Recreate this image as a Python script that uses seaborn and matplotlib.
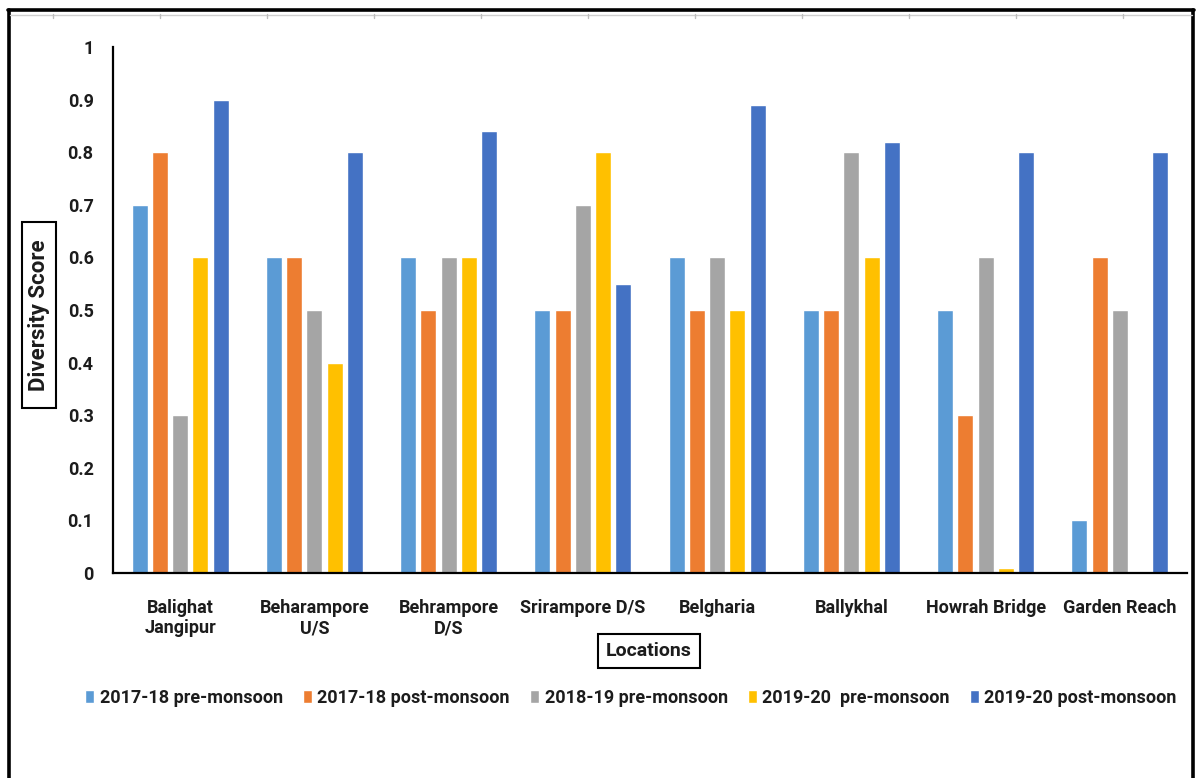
import numpy as np
import pandas as pd
import matplotlib
matplotlib.use("Agg")
import matplotlib.pyplot as plt
from matplotlib.lines import Line2D
from matplotlib.patches import Rectangle
import seaborn as sns

# Sampling locations along the river (x categories)
locations = ["Balighat\nJangipur", "Beharampore\nU/S", "Behrampore\nD/S", "Srirampore D/S",
             "Belgharia", "Ballykhal", "Howrah Bridge", "Garden Reach"]

# Survey seasons (hue)
seasons = ["2017-18 pre-monsoon", "2017-18 post-monsoon", "2018-19 pre-monsoon",
           "2019-20  pre-monsoon", "2019-20 post-monsoon"]

# Diversity scores per season, one value per location
pre_2017_18 = [0.7, 0.6, 0.6, 0.5, 0.6, 0.5, 0.5, 0.1]
post_2017_18 = [0.8, 0.6, 0.5, 0.5, 0.5, 0.5, 0.3, 0.6]
pre_2018_19 = [0.3, 0.5, 0.6, 0.7, 0.6, 0.8, 0.6, 0.5]
pre_2019_20 = [0.6, 0.4, 0.6, 0.8, 0.5, 0.6, 0.01, np.nan]
post_2019_20 = [0.9, 0.8, 0.84, 0.55, 0.89, 0.82, 0.8, 0.8]

y_ticks = [0, 0.1, 0.2, 0.3, 0.4, 0.5, 0.6, 0.7, 0.8, 0.9, 1]
y_tick_labels = ["0", "0.1", "0.2", "0.3", "0.4", "0.5", "0.6", "0.7", "0.8", "0.9", "1"]

palette = ["#5B9BD5", "#ED7D31", "#A5A5A5", "#FFC000", "#4472C4"]

series = [pre_2017_18, post_2017_18, pre_2018_19, pre_2019_20, post_2019_20]
rows = []
for season, values in zip(seasons, series):
    for loc, v in zip(locations, values):
        rows.append({"Location": loc, "Season": season, "Score": v})
df = pd.DataFrame(rows).dropna()

sns.set_theme(style="white")
FONT = ["Roboto", "DejaVu Sans"]
plt.rcParams["font.family"] = FONT
TEXT = "#1c1c1c"

W, H = 1201, 778
fig = plt.figure(figsize=(W / 100, H / 100), dpi=100)
fig.patch.set_facecolor("white")
ax = fig.add_axes([113 / W, 205 / H, 1074 / W, 526 / H])

sns.barplot(data=df, x="Location", y="Score", hue="Season",
            order=locations, hue_order=seasons, palette=palette,
            saturation=1, width=0.756, gap=0.21, errorbar=None, ax=ax)

ax.set_ylim(0, 1)
ax.set_xlim(-0.5, len(locations) - 0.5)
ax.set_yticks(y_ticks)
ax.set_yticklabels(y_tick_labels)

for side in ("top", "right"):
    ax.spines[side].set_visible(False)
for side in ("left", "bottom"):
    ax.spines[side].set_color("black")
    ax.spines[side].set_linewidth(1.6)

ax.tick_params(axis="both", direction="in", length=5, width=1.3, colors="black",
               labelsize=13)
ax.tick_params(axis="y", pad=14)
ax.tick_params(axis="x", pad=19)
for lab in ax.get_xticklabels() + ax.get_yticklabels():
    lab.set_fontweight("bold")
    lab.set_color(TEXT)
for lab in ax.get_xticklabels():
    lab.set_multialignment("center")
    lab.set_linespacing(1.15)

# Y-axis title inside its own framed box
ax.set_ylabel("Diversity Score", fontsize=16, fontweight="bold", color=TEXT)
ax.yaxis.set_label_coords((39 - 113) / 1074, (573 - 315) / 526)
ax.yaxis.label.set_va("center")
ax.yaxis.label.set_ha("center")
fig.add_artist(Rectangle((22 / W, 1 - 408 / H), 34 / W, 186 / H, transform=fig.transFigure,
                         fill=False, ec="black", lw=1.5))

box = dict(boxstyle="square,pad=0.4", fc="white", ec="black", lw=1.5)
ax.set_xlabel("Locations", fontsize=14, fontweight="bold", color=TEXT, bbox=box)
ax.xaxis.set_label_coords((649 - 113) / 1074, (573 - 651) / 526)
ax.xaxis.label.set_va("center")

handles, labels = ax.get_legend_handles_labels()
ax.get_legend().remove()
fig.legend(handles, labels, loc="center", bbox_to_anchor=(631 / W, 1 - 698 / H),
           ncol=5, frameon=False, prop=dict(family=FONT, weight="bold", size=13),
           handlelength=0.5, handleheight=0.75, handletextpad=0.3, columnspacing=1.12,
           labelcolor=TEXT)

# Outer frame (left, top, right) and the faint sheet gridline under it
def fig_line(x0, y0, x1, y1, **kw):
    fig.add_artist(Line2D([x0 / W, x1 / W], [1 - y0 / H, 1 - y1 / H],
                          transform=fig.transFigure, **kw))

fig_line(9, 10, 9, H, color="black", lw=2.6)
fig_line(8, 10, 1194, 10, color="black", lw=2.6)
fig_line(1193, 10, 1193, H, color="black", lw=2.6)
fig_line(10, 15, 1192, 15, color="#cfcfcf", lw=1.0)
for gx in range(53, 1192, 107):
    fig_line(gx, 14, gx, 18, color="#bdbdbd", lw=1.0)

fig.savefig("out.png", dpi=100, facecolor="white")
